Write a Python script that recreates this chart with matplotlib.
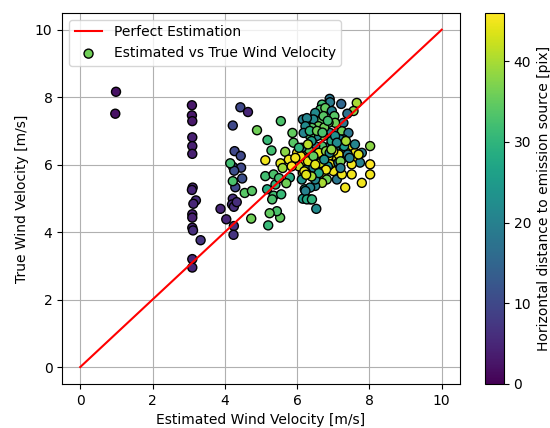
import matplotlib
matplotlib.use("Agg")
import matplotlib.pyplot as plt

# estimated wind velocity [m/s]
est = [
    4.89, 0.99, 0.97,
    3.09, 3.09, 3.10, 3.10, 3.10, 3.10, 3.11, 3.09, 3.20, 3.13, 3.10, 3.10, 3.10, 3.12, 3.33, 3.10, 3.10,
    4.43, 4.64, 4.22, 4.27, 4.44, 4.23, 4.45, 4.26, 4.48, 4.29, 4.22, 4.20, 4.25, 3.88, 4.04, 4.25, 4.24, 4.33,
    4.15, 4.22, 5.55, 5.18, 5.29, 5.67, 5.12, 5.87, 5.90, 5.98, 5.77, 5.54, 4.55, 4.75, 4.73, 5.20, 5.53,
    5.44, 5.24, 5.12, 5.35, 5.40, 5.17, 5.35, 5.56, 5.31, 5.60, 5.80, 5.70, 5.50,
    6.16, 6.25, 6.21, 6.16, 6.13, 6.21, 6.16, 6.36, 6.16, 6.00, 6.05,
    6.90, 6.91, 7.22, 7.65, 7.56, 6.69, 6.64, 6.78, 6.50, 6.96, 7.03, 7.39, 7.28, 7.05, 6.87, 6.64, 6.45,
    6.27, 6.73, 6.59, 6.41, 6.23, 6.91, 7.10, 7.24, 7.42, 7.28, 7.19, 6.73, 6.55, 6.36, 6.18,
    8.02, 7.51, 7.79, 7.60, 7.37, 7.24, 7.05, 6.91, 6.69, 6.50, 6.32, 6.13,
    7.56, 7.28, 7.10, 6.87, 6.69, 6.45, 6.32, 8.02, 7.74,
    6.27, 6.45, 6.59, 6.73, 6.82, 6.69, 6.50, 6.36, 6.23, 6.27, 6.41, 6.53, 7.10, 7.00, 6.91, 7.14,
    7.24, 7.51, 7.51, 7.33, 7.79, 8.02, 6.30, 6.50,
    6.60, 6.80, 7.00, 7.15, 6.40, 6.55, 6.85, 7.20, 6.95, 6.35, 6.75, 7.40, 7.60, 6.20, 6.45, 6.65,
    7.05, 6.85, 6.55, 7.30, 6.30, 6.10, 7.45, 7.70, 6.80, 6.60, 6.40, 7.00, 7.20, 6.70, 6.90, 6.25,
    5.95, 6.05, 5.85, 7.10, 6.50, 6.75, 6.95, 7.35,
]
# true wind velocity [m/s]
true = [
    7.02, 8.16, 7.51,
    7.76, 7.46, 7.29, 6.81, 6.55, 6.32, 5.32, 5.25, 4.94, 4.84, 4.53, 4.43, 4.13, 4.05, 3.76, 3.20, 2.95,
    7.70, 7.56, 7.16, 6.40, 6.26, 5.93, 5.91, 5.82, 5.59, 5.33, 4.99, 4.82, 4.75, 4.69, 4.38, 4.18, 3.92, 4.89,
    6.04, 5.51, 7.29, 6.73, 6.42, 6.38, 6.13, 6.94, 6.65, 6.01, 6.15, 6.04, 5.16, 5.22, 4.40, 4.20, 4.43,
    4.62, 4.56, 5.66, 5.71, 5.41, 5.27, 5.08, 5.12, 4.97, 5.90, 5.62, 5.45, 5.60,
    7.34, 7.16, 6.30, 5.76, 5.56, 5.27, 4.99, 4.97, 6.06, 6.35, 5.95,
    7.95, 7.85, 7.80, 7.83, 7.59, 7.78, 7.63, 7.68, 7.53, 7.59, 7.44, 7.51, 7.24, 7.24, 7.24, 7.29, 7.34,
    7.38, 7.44, 7.14, 7.09, 7.14, 6.94, 6.94, 6.99, 6.94, 6.75, 6.75, 6.85, 6.85, 6.85, 6.94,
    6.55, 6.50, 6.35, 6.35, 6.35, 6.45, 6.45, 6.55, 6.55, 6.55, 6.45, 6.50,
    6.15, 6.20, 6.20, 6.25, 6.20, 6.15, 6.20, 6.01, 6.06,
    5.86, 5.91, 5.96, 5.71, 5.56, 5.46, 5.37, 5.32, 5.22, 4.97, 4.97, 4.69, 5.56, 5.81, 6.01, 6.06,
    5.71, 6.01, 5.71, 5.32, 5.46, 5.71, 6.10, 5.56,
    6.35, 6.40, 6.60, 6.30, 6.70, 6.00, 5.95, 6.10, 6.70, 7.00, 7.10, 6.30, 6.60, 5.80, 6.25, 6.05,
    6.85, 7.30, 7.00, 6.55, 6.60, 6.25, 6.20, 6.30, 5.85, 5.75, 5.65, 6.40, 5.90, 6.95, 6.35, 5.70,
    6.20, 6.50, 5.95, 6.65, 6.00, 6.15, 6.45, 6.70,
]
# horizontal distance to emission source [pix]
dist = [
    36, 2, 2,
    3, 3, 3, 4, 4, 4, 5, 5, 6, 5, 4, 4, 5, 6, 7, 5, 5,
    10, 5, 10, 10, 10, 11, 10, 11, 11, 10, 6, 6, 6, 5, 5, 6, 7, 6,
    32, 33, 33, 31, 32, 38, 45, 35, 34, 40, 45, 44, 34, 34, 36, 31, 35,
    33, 35, 32, 33, 30, 28, 32, 31, 33, 39, 28, 36, 32,
    20, 21, 44, 40, 23, 24, 25, 24, 45, 45, 41,
    18, 19, 15, 40, 38, 32, 33, 35, 22, 20, 34, 17, 18, 36, 35, 35, 22,
    21, 34, 36, 34, 22, 20, 19, 36, 18, 19, 21, 37, 22, 33, 21,
    38, 45, 19, 45, 44, 20, 21, 19, 33, 21, 34, 21,
    45, 46, 45, 45, 22, 45, 21, 46, 20,
    20, 20, 20, 45, 36, 40, 21, 21, 20, 28, 30, 22, 18, 45, 45, 19,
    45, 45, 45, 45, 45, 45, 44, 21,
    44, 38, 20, 45, 26, 44, 24, 37, 28, 30, 36, 19, 21, 45, 35, 42,
    23, 32, 36, 25, 41, 45, 20, 44, 45, 27, 40, 46, 19, 33, 22, 44,
    45, 30, 46, 22, 44, 23, 38, 40,
]

fig = plt.figure(figsize=(5.5, 4.28), dpi=100)
ax = fig.add_axes([0.113, 0.103, 0.723, 0.867])
cax = fig.add_axes([0.882, 0.103, 0.034, 0.867])

ax.plot([0, 10], [0, 10], color='red', label='Perfect Estimation', zorder=3)
sc = ax.scatter(est, true, c=dist, cmap='viridis', vmin=0, vmax=46, s=42,
                edgecolors='black', linewidths=1, label='Estimated vs True Wind Velocity', zorder=2)

ax.set_xlabel('Estimated Wind Velocity [m/s]')
ax.set_ylabel('True Wind Velocity [m/s]')
ax.grid(True)
ax.set_axisbelow(True)
ax.legend(loc='upper left')

cb = fig.colorbar(sc, cax=cax)
cb.set_label('Horizontal distance to emission source [pix]')

fig.savefig('out.png', dpi=100)
